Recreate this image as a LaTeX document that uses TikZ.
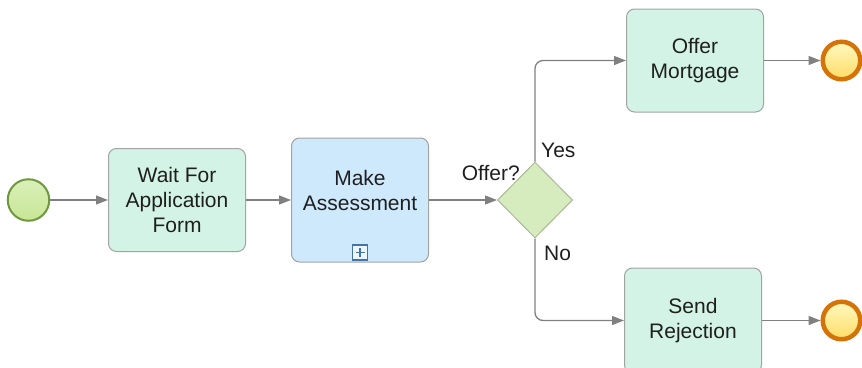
\documentclass[tikz,border=0pt]{standalone}
\usepackage{fontspec}
\setmainfont{Liberation Sans}
\usepackage{xcolor}
\usepackage{tikz}
\usetikzlibrary{shapes.geometric, arrows.meta, positioning}
\definecolor{taskfill}{RGB}{211,243,231}
\definecolor{subfill}{RGB}{206,233,252}
\definecolor{boxline}{RGB}{163,163,163}
\definecolor{gwfill}{RGB}{215,236,190}
\definecolor{gwline}{RGB}{170,184,152}
\definecolor{startline}{RGB}{110,152,62}
\definecolor{starttop}{RGB}{218,239,184}
\definecolor{startbot}{RGB}{200,230,150}
\definecolor{endring}{RGB}{212,115,10}
\definecolor{flowline}{RGB}{128,128,128}
\definecolor{markblue}{RGB}{70,115,165}
\tikzstyle{startevent} = [circle, minimum size=41.5pt, inner sep=0pt, draw=startline, line width=2pt, top color=starttop, bottom color=startbot]
\tikzstyle{endevent} = [circle, minimum size=37.5pt, inner sep=0pt, draw=endring, line width=4.5pt, top color=orange!20!yellow!25!white, bottom color=orange!45!yellow!60!white]
\tikzstyle{task} = [rectangle, rounded corners=8pt, minimum width=137pt, minimum height=103pt, text centered, draw=boxline, line width=1pt, fill=taskfill]
\tikzstyle{subtask} = [task, minimum height=124pt, fill=subfill]
\tikzstyle{gateway} = [diamond, aspect=1, minimum width=75pt, minimum height=76pt, inner sep=0pt, draw=gwline, line width=1pt, fill=gwfill]
\tikzstyle{marker} = [rectangle, minimum size=15pt, inner sep=0pt, draw=markblue, line width=1.3pt, fill=white!60!subfill]
\tikzstyle{lbl} = [inner sep=0pt]
\tikzstyle{arrow} = [draw=flowline, line width=1.3pt, -{Triangle[length=12pt,width=9pt]}, color=flowline]
\tikzset{every node/.style={align=center, font=\fontsize{21}{25}\selectfont, text=black!88}}

\begin{document}
\begin{tikzpicture}[node distance=150pt]
    \useasboundingbox (0pt,0pt) rectangle (862pt,-367pt);
    \node (start) [startevent] at (28.5pt,-200pt) {};
    \node (wait)  [task, right of=start, xshift=-1.5pt] {Wait For\\Application\\Form};
    \node (make)  [subtask, right of=wait, xshift=33pt] {Make\\Assessment\\[-5pt]};
    \node (plus)  [marker, above=2pt of make.south] {};
    \node (gw)    [gateway, right of=make, xshift=25pt] {};
    \node (offer) [task, right of=gw, xshift=10pt, yshift=139.5pt] {Offer\\Mortgage};
    \node (send)  [task, right of=gw, xshift=8pt, yshift=-120.5pt, minimum height=105pt] {Send\\Rejection};
    \node (end1)  [endevent, right of=offer, xshift=-3.5pt] {};
    \node (end2)  [endevent, right of=send, xshift=-1.5pt] {};

    \node (ask) [lbl, anchor=base east] at ([xshift=-15pt, yshift=20pt]gw.center) {Offer?};
    \node (yes) [lbl, anchor=base west] at ([xshift=6pt, yshift=43pt]gw.center) {Yes};
    \node (no)  [lbl, anchor=base west] at ([xshift=9pt, yshift=-60pt]gw.center) {No};

    \draw [markblue, line width=1.3pt] ([xshift=-4.5pt]plus.center) -- ([xshift=4.5pt]plus.center);
    \draw [markblue, line width=1.3pt] ([yshift=-4.5pt]plus.center) -- ([yshift=4.5pt]plus.center);

    \draw [arrow] (start) -- (wait);
    \draw [arrow] (wait) -- (make);
    \draw [arrow] (make) -- (gw);
    \draw [arrow, rounded corners=8pt] (gw.north) |- (offer.west);
    \draw [arrow, rounded corners=8pt] (gw.south) |- (send.west);
    \draw [arrow] (offer) -- (end1);
    \draw [arrow] (send) -- (end2);
\end{tikzpicture}
\end{document}
